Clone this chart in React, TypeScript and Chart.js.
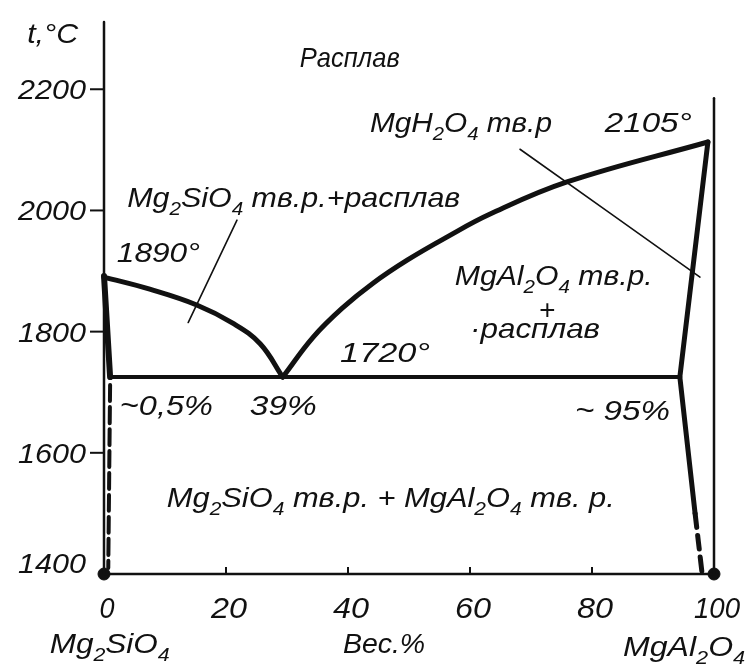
import { useEffect, useRef } from "react";
import { Chart, registerables } from "chart.js";

Chart.register(...registerables);

// ---- data (wt.% MgAl2O4, temperature °C) ----
const liquidusLeft = [[0, 1890], [7.5, 1870], [15.2, 1844], [21.1, 1814], [25.6, 1780], [29.3, 1725]];
const liquidusRight = [[29.3, 1725], [34.3, 1791], [39.2, 1840], [44.1, 1880], [49.7, 1918], [56.2, 1956], [63.3, 1994], [75.9, 2047], [99.0, 2113]];
const solidusLeft = [[0, 1892], [1.0, 1725]];
const solvusLeftDashed = [[1.0, 1712], [0.7, 1410]];
const eutectic = [[1.0, 1725], [94.4, 1725]];
const solidusRight = [[99.0, 2113], [94.4, 1725]];
const solvusRightSolid = [[94.4, 1725], [96.9, 1500]];
const solvusRightDashed = [[96.9, 1500], [98.0, 1405]];
const leaderLeft = [[21.8, 1984], [13.8, 1815]];
const leaderRight = [[68.2, 2101], [97.7, 1890]];
const axisLeft = [[0, 1400], [0, 2311]];
const axisRight = [[100, 1400], [100, 2185]];
const axisBottom = [[0, 1400], [100, 1400]];
const endPoints = [[0, 1400], [100, 1400]];

const xTicks = [0, 20, 40, 60, 80, 100];
const yTicks = [1400, 1600, 1800, 2000, 2200];

// annotation texts; {..} marks a subscript
const labelTexts = [
  "t,°C",
  "Расплав",
  "MgH{2}O{4} тв.р",
  "2105°",
  "Mg{2}SiO{4} тв.р.+расплав",
  "1890°",
  "MgAl{2}O{4} тв.р.",
  "+",
  "·расплав",
  "1720°",
  "~0,5%",
  "39%",
  "~ 95%",
  "Mg{2}SiO{4} тв.р. + MgAl{2}O{4} тв. р.",
  "Mg{2}SiO{4}",
  "Вес.%",
  "MgAl{2}O{4}",
];
// anchor of each text in data coordinates (x, t)
const labelAnchors = [
  [-12.6, 2276], [32.1, 2237], [43.6, 2129], [82.1, 2129], [3.8, 2005], [2.1, 1915],
  [57.5, 1877], [72.6, 1838], [60.0, 1789], [38.7, 1750], [2.6, 1662], [23.9, 1662],
  [77.2, 1654], [10.3, 1510], [-8.9, 1269], [39.2, 1269], [85.1, 1265],
];
// target widths in px (hand lettering is narrow)
const labelWidths = [51, 100, 182, 87, 333, 83, 198, 0, 130, 90, 93, 67, 95, 448, 120, 82, 122];

const FONT = '"Liberation Sans", "DejaVu Sans", sans-serif';
const INK = "#111";

const pts = (a: number[][]) => a.map(([x, y]) => ({ x, y }));

function parseRich(text: string) {
  const out: { s: string; sub: boolean }[] = [];
  const re = /\{([^}]*)\}|([^{]+)/g;
  let m: RegExpExecArray | null;
  while ((m = re.exec(text))) {
    if (m[1] !== undefined) out.push({ s: m[1], sub: true });
    else out.push({ s: m[2], sub: false });
  }
  return out;
}

function drawRich(ctx: CanvasRenderingContext2D, text: string, x: number, y: number, size: number, width: number, align: "left" | "center") {
  const parts = parseRich(text);
  const mainF = `italic ${size}px ${FONT}`;
  const subF = `italic ${Math.round(size * 0.68)}px ${FONT}`;
  let w = 0;
  for (const p of parts) {
    ctx.font = p.sub ? subF : mainF;
    w += ctx.measureText(p.s).width;
  }
  const sx = width > 0 ? width / w : 1;
  ctx.save();
  ctx.translate(x, y);
  ctx.scale(sx, 1);
  ctx.fillStyle = INK;
  ctx.textBaseline = "alphabetic";
  ctx.textAlign = "left";
  let cx = align === "center" ? -w / 2 : 0;
  for (const p of parts) {
    ctx.font = p.sub ? subF : mainF;
    ctx.fillText(p.s, cx, p.sub ? size * 0.28 : 0);
    cx += ctx.measureText(p.s).width;
  }
  ctx.restore();
}

const decorPlugin = {
  id: "decor",
  beforeDraw(chart: any) {
    const ctx = chart.ctx;
    ctx.save();
    ctx.fillStyle = "#fff";
    ctx.fillRect(0, 0, chart.width, chart.height);
    ctx.restore();
  },
  afterDatasetsDraw(chart: any) {
    const ctx: CanvasRenderingContext2D = chart.ctx;
    const xs = chart.scales.x;
    const ys = chart.scales.y;
    const y0 = ys.getPixelForValue(1400);
    const x0 = xs.getPixelForValue(0);
    ctx.save();
    ctx.strokeStyle = INK;
    ctx.lineWidth = 2;
    // y tick marks and labels
    for (const t of yTicks) {
      const py = ys.getPixelForValue(t);
      if (t !== 1400) {
        ctx.beginPath();
        ctx.moveTo(x0 - 14, py);
        ctx.lineTo(x0, py);
        ctx.stroke();
      }
      drawRich(ctx, String(t), x0 - 86, py + (t === 1400 ? -1 : 10), 28, 68, "left");
    }
    // x tick marks and labels
    for (const v of xTicks) {
      const px = xs.getPixelForValue(v);
      if (v !== 0 && v !== 100) {
        ctx.beginPath();
        ctx.moveTo(px, y0);
        ctx.lineTo(px, y0 - 7);
        ctx.stroke();
      }
      const w = v === 0 ? 15 : v === 100 ? 46 : 36;
      drawRich(ctx, String(v), px + 3, y0 + 44, 29, w, "center");
    }
    // annotations
    labelTexts.forEach((txt, i) => {
      const [ax, at] = labelAnchors[i];
      const px = xs.getPixelForValue(ax);
      const py = ys.getPixelForValue(at);
      if (txt === "+") drawRich(ctx, txt, px, py + 10, 28, 0, "center");
      else drawRich(ctx, txt, px, py, 28, labelWidths[i], "left");
    });
    ctx.restore();
  },
};

function line(data: number[][], width: number, dash: number[] = []) {
  return {
    data: pts(data),
    showLine: true,
    borderColor: INK,
    backgroundColor: INK,
    borderWidth: width,
    borderDash: dash,
    pointRadius: 0,
    tension: 0.4,
    borderCapStyle: "round" as const,
    borderJoinStyle: "round" as const,
    clip: false as any,
    fill: false,
  };
}

export default function App() {
  const ref = useRef<HTMLCanvasElement | null>(null);
  useEffect(() => {
    if (!ref.current) return;
    const chart = new Chart(ref.current, {
      type: "scatter",
      data: {
        datasets: [
          line(axisLeft, 2.5),
          line(axisRight, 2.5),
          line(axisBottom, 2.5),
          line(liquidusLeft, 5),
          line(liquidusRight, 5),
          line(solidusLeft, 6),
          line(solvusLeftDashed, 4, [16, 6]),
          line(eutectic, 4),
          line(solidusRight, 5),
          line(solvusRightSolid, 5),
          line(solvusRightDashed, 5, [14, 8]),
          line(leaderLeft, 1.6),
          line(leaderRight, 1.6),
          {
            data: pts(endPoints),
            showLine: false,
            pointRadius: 6,
            pointBackgroundColor: INK,
            pointBorderColor: INK,
            clip: false as any,
          },
        ] as any,
      },
      options: {
        responsive: false,
        animation: false,
        devicePixelRatio: 1,
        layout: { padding: { left: 104, right: 33, top: 22, bottom: 96 } },
        plugins: { legend: { display: false }, tooltip: { enabled: false } },
        events: [],
        scales: {
          x: { type: "linear", min: 0, max: 100, display: false },
          y: { type: "linear", min: 1400, max: 2311, display: false },
        },
      },
      plugins: [decorPlugin],
    });
    return () => chart.destroy();
  }, []);
  return (
    <div style={{ position: "fixed", left: 0, top: 0, width: 747, height: 670, background: "#fff" }}>
      <canvas ref={ref} width={747} height={670} style={{ display: "block" }} />
    </div>
  );
}
